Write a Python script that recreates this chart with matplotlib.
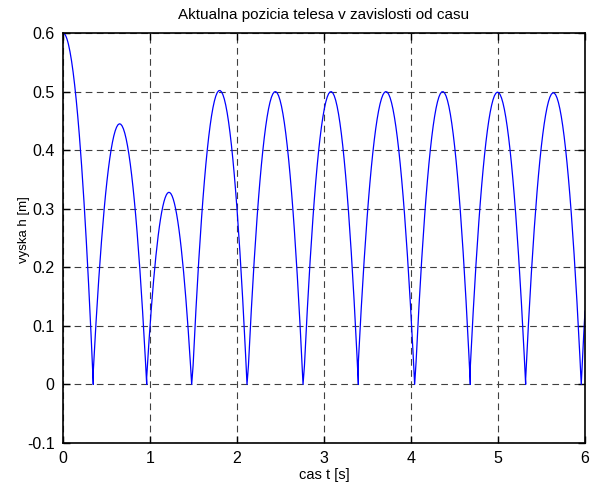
import matplotlib
matplotlib.use('Agg')
import matplotlib.pyplot as plt
import numpy as np

# values
# times where the body touches the ground (s)
bounce_t = [0.348, 0.962, 1.479, 2.115, 2.759, 3.395, 4.042, 4.682, 5.318, 5.957]
# apex of each arc (s) and its height (m); first arc starts at the apex
peak_t = [0.0, 0.651, 1.218, 1.800, 2.440, 3.080, 3.712, 4.364, 4.995, 5.636, 6.277]
peak_h = [0.600, 0.445, 0.328, 0.502, 0.500, 0.500, 0.500, 0.500, 0.499, 0.498, 0.500]

xticks = [0, 1, 2, 3, 4, 5, 6]
yticks = [-0.1, 0, 0.1, 0.2, 0.3, 0.4, 0.5, 0.6]

plt.rcParams['font.family'] = ['Liberation Sans', 'DejaVu Sans']
plt.rcParams['font.size'] = 11.5

fig = plt.figure(figsize=(5.9, 4.86), dpi=100)
ax = fig.add_axes([0.1068, 0.0885, 0.8847, 0.8436])

# build each arc between its two ground contacts
edges = [0.0] + bounce_t + [6.0]
tt = []
hh = []
for i in range(len(peak_t)):
	t0, t1 = edges[i], edges[i+1]
	half = (bounce_t[i] - peak_t[i]) if i < len(bounce_t) else (peak_t[i] - bounce_t[i-1])
	t = np.linspace(t0, t1, 40)
	h = peak_h[i]*(1.0 - ((t - peak_t[i])/half)**2)
	tt.append(t)
	hh.append(np.clip(h, 0, None))
tt = np.concatenate(tt)
hh = np.concatenate(hh)

ax.plot(tt, hh, color='#0000ff', lw=0.9)

ax.set_xlim(0, 6)
ax.set_ylim(-0.1, 0.6)
ax.set_xticks(xticks)
ax.set_yticks(yticks)
ax.set_yticklabels(['-0.1', '0', '0.1', '0.2', '0.3', '0.4', '0.5', '0.6'])
ax.grid(True, color='0.25', linestyle=(0, (6, 4)), lw=0.8)
ax.tick_params(direction='in', length=5, top=True, right=True, width=1, pad=6)
for s in ax.spines.values():
	s.set_linewidth(1.2)

ax.set_title('Aktualna pozicia telesa v zavislosti od casu', fontsize=11, pad=10)
ax.set_xlabel('cas t [s]', fontsize=10.5, labelpad=1)
ax.set_ylabel('vyska h [m]', fontsize=9.5)
ax.yaxis.set_label_coords(-0.063, 0.52)

fig.savefig('out.png', dpi=100)
